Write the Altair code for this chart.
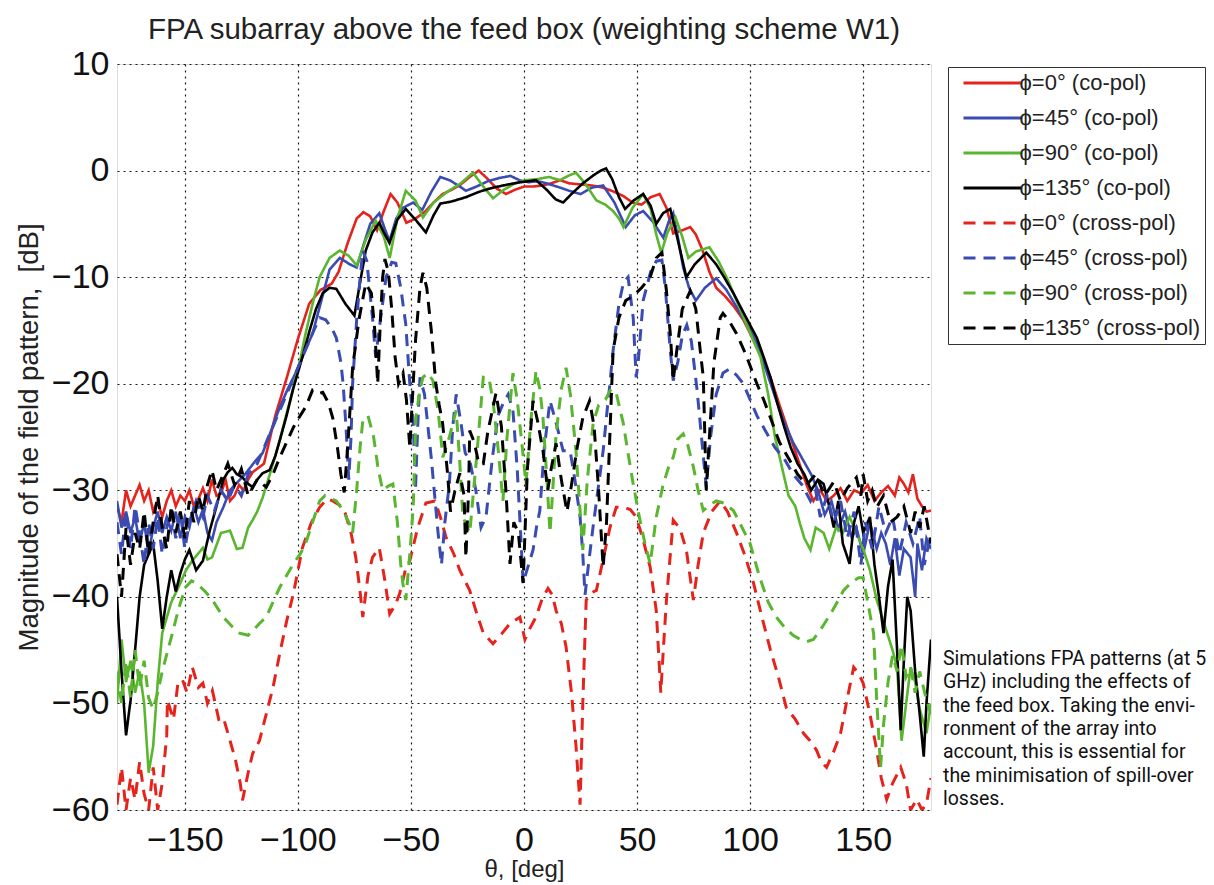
import altair as alt
import pandas as pd

# ---------------- data ----------------
X_TICKS = [-150, -100, -50, 0, 50, 100, 150]
Y_TICKS = [-60, -50, -40, -30, -20, -10, 0, 10]

LABELS = ["ϕ=0° (co-pol)", "ϕ=45° (co-pol)", "ϕ=90° (co-pol)", "ϕ=135° (co-pol)",
          "ϕ=0° (cross-pol)", "ϕ=45° (cross-pol)", "ϕ=90° (cross-pol)", "ϕ=135° (cross-pol)"]
COLORS = ["#e5231d", "#3a4bb2", "#5ab52f", "#000000",
          "#e5231d", "#3a4bb2", "#5ab52f", "#000000"]
DASHES = [[1, 0], [1, 0], [1, 0], [1, 0], [12, 8], [12, 8], [12, 8], [12, 8]]

# phi = 0 co-pol
CO0_T = [-180, -178, -176, -174, -172, -170, -168, -166, -164, -162, -160, -158, -156, -154, -152, -150,
         -148, -146, -144, -142, -140, -138, -136, -134, -132, -130, -128, -126, -124, -122, -120, -115,
         -110, -105, -100, -95, -90, -85, -82, -78, -74, -71, -68, -65, -62, -59, -56, -52, -48, -44, -40,
         -36, -32, -28, -24, -20, -16, -12, -8, -4, 0, 4, 8, 12, 16, 20, 25, 30, 35, 40, 44, 48, 52, 56,
         60, 63, 66, 70, 73.5, 76, 79, 82, 85, 89, 93, 97, 101, 105, 109, 113, 117, 121, 125, 128, 131,
         134, 137, 140, 143, 146, 149, 152, 155, 158, 161, 164, 166, 168, 170, 172, 174, 176, 178, 180]
CO0_DB = [-31.5, -33, -30, -31.5, -30.5, -29.5, -31, -30, -32, -31, -32.5, -31, -30, -31.5, -30.5, -31,
          -30, -31.5, -30.8, -29.8, -31, -29, -30.5, -30.3, -29, -31, -30.5, -29.5, -30, -29, -28.3, -27.5,
          -23, -19.5, -15.8, -12.5, -11.2, -10.6, -9.5, -6.8, -4.5, -3.9, -4.3, -5.6, -3.8, -2.2, -3, -4.9,
          -4.5, -3.9, -3, -2.2, -1.8, -1.3, -0.6, 0, -0.8, -1.7, -2.2, -1.8, -1.5, -1.5, -1.4, -1.2, -0.9,
          -1.2, -1.3, -1.4, -1.6, -2, -2.4, -3, -3.2, -2.5, -2.2, -3.5, -5.9, -5.6, -5.3, -6, -7.5, -9.5,
          -11, -11.8, -12.8, -14, -15.7, -17.5, -19.4, -22, -24.5, -27, -29.5, -31, -30, -31, -30.5, -29.8,
          -31, -30, -30.3, -29.5, -31, -30.2, -29.6, -30.5, -28.8, -29.4, -30.2, -28.5, -30.8, -31.5, -32,
          -31.9]

# phi = 45 co-pol
CO45_T = [-180, -178, -176, -174, -172, -170, -168, -166, -164, -162, -160, -158, -156, -154, -152, -150,
          -148, -146, -144, -142, -140, -138, -136, -133, -130, -127, -123, -119, -115.6, -112, -108,
          -104.5, -101, -97, -93.5, -90, -86, -81.5, -77, -74, -71, -68, -64, -61.5, -59.5, -56.5, -53.6,
          -49, -45, -41, -37, -33, -29, -25.7, -21, -16, -11, -6, -2, 2, 6, 10, 16, 20, 25, 30, 35, 40, 45,
          49, 52.7, 57, 61.6, 64, 66, 68, 70.4, 73, 76, 80, 85, 89.5, 94, 98.5, 103, 107, 111, 115, 119,
          123, 127, 130, 133, 136, 139, 142, 145, 147, 150, 153, 156, 158, 160, 162, 164, 166, 168, 171,
          173, 174, 176, 178, 180]
CO45_DB = [-31, -33.5, -32, -34, -32.5, -35, -33, -36, -33.5, -32, -34, -32.5, -33.8, -32, -34.5, -32.5,
           -33.5, -31.5, -33, -31.8, -34, -34.7, -33, -31.6, -30, -29.3, -28.4, -27.3, -26.5, -24.5, -22.2,
           -20.5, -19, -17, -15.3, -12.5, -9.3, -8.2, -8.8, -9.1, -7, -5, -4, -5.5, -6.6, -4.5, -3.5, -3,
           -3.7, -2, -0.6, -0.9, -1.4, -1.9, -1.5, -1, -0.7, -0.5, -0.9, -1.1, -1, -1.2, -1.6, -1.9, -2.2,
           -1.6, -1.4, -3, -5.3, -4.2, -3.8, -4.8, -6.3, -4.8, -4, -6.2, -9.1, -11, -12.2, -11, -10.1, -11.2,
           -12.8, -14.4, -16.2, -18.7, -21.2, -23.6, -25.5, -27, -28.5, -30, -32.3, -31, -33.6, -32, -34.5,
           -33.5, -36, -33, -35.5, -34, -35, -37, -34.5, -38, -35.5, -36.3, -40, -35, -37.5, -34.5, -35.5]

# phi = 90 co-pol
CO90_T = [-180, -178, -176, -174, -172, -170, -168, -166, -164, -162, -160, -156, -152.6, -149.5, -146.7,
          -142, -140, -138, -134, -130, -127, -124.5, -122, -120, -118, -115.6, -112, -108, -105, -102, -99,
          -96.6, -93.5, -90.4, -86, -81.5, -77.5, -74, -70, -65.6, -62, -59.4, -56, -52.3, -48, -44.7, -40,
          -34, -28, -22.6, -18, -13.7, -9, -4, 1, 6, 11, 16, 19.5, 23, 27, 32, 36, 39.4, 42, 44, 48, 52.7,
          56, 58.5, 60.7, 63.5, 67, 70, 72.7, 76, 82, 86, 90, 94, 98.5, 104.6, 108, 111, 114.8, 117, 120,
          122, 124, 126.7, 129, 132.5, 135, 138, 141, 144, 147, 150, 153, 156, 160, 163, 165, 167, 169, 171,
          173, 175, 178, 180]
CO90_DB = [-50, -44, -48, -46, -49, -47, -50, -56.5, -54, -48, -43.4, -40.5, -39, -37.5, -36.6, -35.4,
           -36.5, -36.3, -34, -33.8, -35.5, -35.4, -33.5, -32.8, -32, -30.7, -28.2, -25.3, -22.8, -20.4,
           -17.8, -15.3, -12.5, -10, -8.2, -7.5, -8, -8.9, -6.5, -4.7, -6.2, -8.2, -4.5, -1.9, -2.8, -4.4,
           -3, -2, -1.2, -0.2, -1.5, -2.6, -1.8, -1.2, -0.9, -0.8, -0.6, -0.9, -0.5, -0.2, -1.2, -2.8, -3.2,
           -3.8, -4.5, -5.3, -3.5, -2.2, -3.6, -6, -7.7, -5.8, -4.4, -6.2, -8.2, -7.6, -7.2, -8.5, -10.2,
           -12.2, -14.5, -17.5, -21, -25, -28.5, -30.5, -31.5, -33.1, -34.5, -35.6, -33.5, -34, -35.5, -33.5,
           -34, -32.5, -34, -35.5, -37.5, -40.3, -43, -45, -46.6, -53.5, -50, -46.6, -48, -50.5, -52.8, -50]

# phi = 135 co-pol
CO135_T = [-180, -178, -176, -174, -172, -170, -168, -166, -164, -162, -160, -158, -156, -154, -152, -150,
           -148, -145, -142, -139, -136, -133, -131, -129, -127, -124.5, -122, -120, -118, -115.6, -112.5,
           -110, -108, -105, -102, -98, -94.8, -92, -89, -86, -83, -79, -75, -72.5, -70, -67, -64, -62,
           -59.5, -56, -52.3, -48, -43.4, -40, -37, -32, -25.7, -20, -13.7, -7, -1.8, 2, 5.3, 10, 14, 17.3,
           21, 26, 31, 34, 36.3, 39, 42, 44.7, 48.5, 52.7, 56, 58.5, 61.5, 64.7, 68, 71.8, 75.5, 80.6, 85,
           88.5, 92.6, 97.5, 103, 106, 109, 112, 115, 118, 121, 124, 127, 130, 132.5, 135, 137, 139, 141,
           144, 146, 148, 150, 153, 155, 157, 159, 161, 163, 165, 166.6, 168, 169.5, 171, 173, 175, 176.8,
           178, 180]
CO135_DB = [-40, -47, -53, -49.7, -45, -40, -37, -36, -35, -38.5, -43, -40, -37.5, -39.5, -37.8, -36.5,
            -35.6, -37.5, -36.6, -33.8, -31.5, -29, -28.3, -27.9, -28.5, -28.8, -29.4, -29.7, -29, -28.4,
            -28.1, -26.8, -25.3, -23, -20.4, -17.5, -15, -13, -11.5, -11, -11.1, -12.5, -13.6, -10.5, -7.5,
            -5.8, -4.9, -5.8, -6.8, -4.6, -3.6, -4.6, -5.8, -4.2, -3.1, -2.9, -2.5, -2, -1.6, -1.3, -1.1, -1,
            -0.9, -1.8, -2.7, -3, -2.2, -1.2, -0.4, 0, 0.2, -0.8, -2.5, -3.6, -2.8, -2.2, -3.3, -5, -4, -3.6,
            -6.5, -10, -8.8, -7.7, -8.8, -10, -11.5, -13.5, -15.7, -17.5, -19.4, -21.8, -24, -26, -27.5,
            -28.5, -30, -29, -29.4, -31.5, -33.5, -31, -35, -36.9, -33, -31.5, -34, -32.5, -37, -40, -43.4,
            -39, -36.5, -45, -52.5, -46, -40, -41.3, -47, -51, -55, -50, -44]

# phi = 0 cross-pol
X0_T = [-180, -178, -176, -174, -172, -170, -168, -166, -164, -162, -160, -158, -157.7, -155, -153, -151,
        -149, -146.7, -144, -142, -140, -137.8, -135, -133, -130, -127.6, -125.5, -124.5, -122, -120, -117,
        -114, -111, -108, -105, -102, -98, -94, -90.4, -87, -84.6, -81.5, -79, -76.5, -74.4, -72.5, -71.3,
        -69, -67, -64, -61.5, -59.4, -57, -55, -52.5, -50.5, -47, -43.4, -39.4, -37, -34.5, -31, -28.4,
        -24, -21, -18, -13.7, -10, -6.2, -1.8, 0.4, 2.5, 5.3, 8, 10.6, 12.5, 14.2, 16.5, 18.6, 21, 23, 24.8,
        26, 27.5, 30, 32, 35, 38, 40.8, 43.9, 47, 49.6, 52.5, 55.8, 58.5, 60.5, 61.6, 63, 66, 69, 71.8,
        74.9, 77, 79.3, 83, 86.8, 90, 94, 97.5, 101.5, 105, 109, 112.5, 116, 120, 123.6, 126.5, 129.4,
        131.5, 133.8, 137, 140, 143, 145.8, 148, 150, 153, 156, 158, 160.4, 163, 166.6, 169, 171, 173.7,
        176, 178, 180]
X0_DB = [-59.5, -56, -60, -57, -59, -55.5, -58.5, -60, -56, -60, -57.5, -53, -49.7, -51.5, -48, -47.8,
         -49, -46.6, -48.5, -48.1, -50, -48.8, -51.5, -51.3, -53.5, -55.3, -57.5, -59.1, -56.5, -54.7,
         -53.5, -51, -48.5, -45.3, -42.3, -39.7, -35.4, -33, -31.6, -30.8, -31, -31.4, -32.2, -34, -36.3,
         -39.5, -41.9, -38, -36.3, -35.4, -38.5, -41.6, -40.8, -39.7, -37.5, -36.6, -33.5, -31.2, -31,
         -32.5, -34.4, -36, -37.5, -39.4, -41.5, -43.4, -44.4, -43.5, -42.5, -41.9, -44, -43, -41.9, -40.2,
         -39.2, -39.8, -41.3, -42.5, -44.7, -49, -54, -59.5, -50, -40.3, -39.6, -39.4, -36.5, -33.5, -31.6,
         -31.6, -31.8, -32.5, -34.5, -37.2, -41.3, -49, -45, -40.3, -32.8, -33.6, -35.6, -40.3, -37, -34,
         -32, -31, -32, -34, -36, -38.7, -41.7, -45, -47.5, -50.4, -51.5, -52.8, -53.5, -54.4, -55.5, -56,
         -54.5, -52.8, -49.5, -46.6, -47.2, -48.1, -51, -54.4, -57, -59, -57.5, -56, -57.5, -60, -59, -60,
         -59.4, -57]

# phi = 45 cross-pol
X45_T = [-180, -178, -176, -174, -172, -170, -168, -166, -164, -162, -160, -158, -156, -154, -152, -150,
         -148, -145, -142, -140, -137, -134, -131, -128, -125, -122, -118, -115, -112, -108, -104, -101,
         -98, -94, -90.4, -87.7, -85, -83, -81, -80, -78.7, -77.5, -76.5, -75.8, -74, -72.7, -71.3, -69.5,
         -67, -65.6, -63.5, -61, -58.5, -56.7, -54.5, -52.3, -50.5, -49, -48, -47, -46, -44, -41, -38, -36.5,
         -35, -33, -31.5, -30, -28, -26, -24, -21.3, -19, -16.8, -14, -11.5, -9.3, -7, -4.9, -3, -1.5, -0.4,
         2, 4, 5.5, 7, 9, 11.5, 14, 17.3, 20.4, 22.5, 24.8, 26, 27, 28.5, 30.5, 33, 35, 37, 38, 39.4, 42, 44,
         46, 48.3, 49.6, 50.5, 52.7, 56, 58.5, 61, 62.5, 64.7, 66, 68, 70, 72, 74, 76.5, 78.5, 80.6, 82.5,
         85, 88, 91, 94, 97, 100, 103, 107, 111, 115, 119, 123, 126.7, 129, 131, 134, 137, 140, 143, 146,
         149, 151, 154, 157, 160, 163, 166, 169, 172, 175, 177, 180]
X45_DB = [-33, -36, -32, -35.5, -31.5, -34, -37, -33, -35.5, -32.5, -36, -33.5, -31.8, -34.5, -32, -35.5,
          -33, -31, -32.5, -30.5, -32, -30, -31, -29.5, -30.5, -28.5, -27.5, -26, -24.5, -22.5, -20.5, -19,
          -17.5, -15.5, -13.8, -14, -14.8, -15.7, -18, -20, -24.1, -29, -25, -20, -14, -10.6, -7.5, -8.5,
          -13.8, -17.5, -14, -10, -8.6, -8.7, -11, -14.4, -20, -23.5, -30, -24, -19.4, -21, -27, -34, -37,
          -33, -29.4, -24, -21, -23.5, -26.5, -27.2, -30, -33.5, -32.5, -27, -23, -21.9, -21, -22.5, -28,
          -34, -38.7, -37, -35.6, -33.5, -31.9, -26, -21.6, -23.5, -26.3, -26.3, -29, -32.5, -36, -39.8,
          -37, -33.5, -29.5, -26.3, -22, -20, -16.9, -12.5, -10.5, -10, -13.8, -19.4, -18, -12.2, -9.5,
          -8.5, -8.4, -11, -16.9, -19.7, -18, -15.5, -14.5, -16, -20.5, -25, -29.7, -25, -21, -19, -18.6,
          -19.2, -20, -21.5, -23, -24.5, -26, -27, -28.5, -29.5, -31, -30, -32.5, -30.5, -33, -31, -34.5,
          -32, -37, -33, -35.5, -31.5, -34, -32.5, -36, -33, -35, -32.5, -37, -34]

# phi = 90 cross-pol
X90_T = [-180, -178, -176, -174, -172, -170, -168, -166, -164, -162, -160, -157.5, -155.5, -152.6, -149.7,
         -147, -145, -141, -137.8, -133, -129, -125.8, -122, -120, -117, -114, -111, -108, -105, -102, -99,
         -96.6, -93.5, -90.4, -88, -86, -83, -80, -77.5, -75.8, -74, -72.5, -71.3, -69, -66.5, -64.5, -62.5,
         -60, -58, -56, -54.5, -53.6, -52.3, -50.5, -49, -47.8, -46, -44.7, -42.5, -40.3, -38, -35.9, -33,
         -30, -28.5, -27, -24, -21, -18, -15.5, -13.7, -11.5, -9.3, -7.5, -4.9, -3, -1, 0.9, 3, 5.3, 7, 8.4,
         10, 11.5, 13, 14.2, 16.5, 18.6, 20.5, 23, 24.5, 26, 28, 30.6, 33, 36, 38.5, 40.8, 43.9, 46, 48.3,
         51, 53.5, 55.8, 58.5, 61.5, 64, 66, 68, 70.4, 72.5, 74.9, 77, 79.3, 82, 85, 88.5, 92.6, 96, 100,
         104, 108, 111.6, 115, 119, 122.3, 125, 128, 132, 135.6, 138.5, 141.3, 145, 148, 150, 152, 154.6,
         156, 157.7, 159, 161, 163, 165, 167, 169, 171, 173, 175, 178, 180]
X90_DB = [-47, -50, -46, -49.5, -45, -48.5, -46, -49.5, -50.5, -49, -47, -45, -43.4, -41, -39.1, -38.5,
          -38.7, -39.5, -40.3, -41.9, -42.8, -43.4, -43.6, -43.2, -42.5, -41.9, -40.5, -39.1, -38, -36.9,
          -36, -35, -33, -31, -30.5, -30.7, -31, -31.9, -33, -34, -30, -26, -23.5, -23, -25, -28, -30,
          -29.6, -29.4, -33, -37, -38.7, -40.3, -36, -31.6, -23.2, -20.5, -19.4, -19, -19.7, -22.5, -26.9,
          -25, -22.5, -27, -32.5, -34, -27, -19.4, -19.5, -21.6, -26, -31, -25, -19, -21.5, -25.5, -29.4,
          -23.5, -18.8, -20.5, -23.2, -28.5, -34, -29, -24.7, -20.5, -18.5, -21, -26.3, -31, -35.6, -29,
          -23.7, -22, -21.5, -20.5, -20.9, -23.7, -26.5, -29.4, -32.5, -35, -36.9, -32.5, -29.5, -27.8,
          -26.9, -25.2, -24.7, -25.8, -27.8, -30, -31.9, -31.4, -31, -31.2, -31.9, -33.3, -35, -38, -40.5,
          -41.9, -42.8, -43.6, -44, -44.2, -44, -42.8, -41.6, -40.5, -39.4, -38.6, -38.2, -38.2, -40.5,
          -43.4, -49.7, -56, -52, -48, -45.5, -47, -44.5, -47.5, -46.6, -49, -47, -49.7, -51]

# phi = 135 cross-pol
X135_T = [-180, -178, -176, -174, -172, -170, -168, -166, -164, -162, -160, -158, -156, -154, -152, -150,
          -148, -146, -144, -142, -140, -138, -136, -134, -131, -128, -125, -122, -118, -114, -111, -108,
          -105, -102, -99, -96.6, -93.5, -90.4, -89, -86.5, -84.6, -82.5, -81, -79.5, -78, -75.8, -73, -70,
          -67.5, -66, -64.7, -63.5, -62.5, -61.5, -60, -58.5, -57, -55.5, -53.5, -52, -50.5, -49.5, -48, -46,
          -44.7, -43, -41, -39, -37.5, -36, -34, -32.5, -30.5, -28.4, -26.5, -25.7, -24.5, -24, -22, -20,
          -18, -16, -12.4, -10, -8, -6.2, -4.5, -2.5, -0.4, 1.5, 4, 6, 8.4, 10.5, 12, 14.2, 16.5, 19, 21,
          23.5, 26, 29, 31, 33, 35, 36.5, 38, 39.4, 42, 45, 48, 52, 55.8, 58.5, 61, 63, 64.7, 66, 67.5, 70,
          73.5, 76, 78, 79.3, 80.6, 82, 84, 86.8, 88, 91, 94, 98, 103, 106, 109, 113, 117, 121, 125, 129,
          133, 137, 140, 143, 147, 149, 150, 152, 154, 156, 159, 162, 165, 168, 171, 173, 175, 177, 180]
X135_DB = [-36, -40, -33.5, -37, -34, -35.5, -32, -36, -33, -30.5, -33.5, -35.5, -31.5, -34, -32, -34.5,
           -31, -33, -30.5, -32, -29.5, -28.1, -30, -29, -27.5, -29.5, -28, -30.5, -29, -29.7, -28.5, -26.9,
           -25.5, -24.1, -23, -22.2, -20.6, -20.9, -20.8, -21.8, -23.2, -26, -28.5, -30.2, -26, -18.5, -14,
           -10.6, -11.5, -15, -20, -14, -10, -8.3, -9.5, -13, -17.5, -20, -19, -21.5, -26, -22, -16, -11,
           -9.6, -11, -15, -20, -22, -23.7, -28, -32, -30, -28.4, -30.5, -36.3, -30, -24.4, -25.5, -27.5,
           -27.5, -24.5, -20.9, -24, -30, -36.9, -33, -34, -38.7, -28, -21.6, -23.5, -26.3, -30, -28, -25.6,
           -29, -32, -29.5, -26, -23.2, -21.6, -24, -30, -37.2, -33, -24.7, -16.9, -13.8, -12.2, -11.8, -11,
           -10, -8.2, -7.7, -11.3, -15.3, -19.7, -17, -13, -11.3, -13, -17, -19.4, -30, -25, -18, -13.8,
           -13.4, -14.2, -15.3, -17.2, -20, -21.5, -23.2, -25.5, -27, -28.5, -29.5, -28.5, -30.5, -29.2, -31,
           -29.8, -28.8, -30.5, -28.5, -31, -30, -31.6, -30.5, -33, -32.5, -31.5, -34, -32, -33.5, -31.5, -35]

SERIES_T = [CO0_T, CO45_T, CO90_T, CO135_T, X0_T, X45_T, X90_T, X135_T]
SERIES_DB = [CO0_DB, CO45_DB, CO90_DB, CO135_DB, X0_DB, X45_DB, X90_DB, X135_DB]

CAPTION = ["Simulations FPA patterns (at 5", "GHz) including the effects of",
           "the feed box. Taking the envi-", "ronment of the array into",
           "account, this is essential for", "the minimisation of spill-over", "losses."]

# ---------------- build table ----------------
rows = []
for k, (ts, ds) in enumerate(zip(SERIES_T, SERIES_DB)):
    for i, (t, d) in enumerate(zip(ts, ds)):
        rows.append({"series": LABELS[k], "pol": "co" if k < 4 else "cross",
                     "theta": t, "db": d, "idx": i})
df = pd.DataFrame(rows)

FONT = "Liberation Sans"
GRID = dict(grid=True, gridColor="#1a1a1a", gridDash=[2, 4], gridWidth=1.2, gridOpacity=1,
            ticks=False, domain=False, labelFont=FONT, titleFont=FONT,
            labelColor="#111111", titleColor="#222222", titleFontWeight="normal",
            labelFlush=False)

x_enc = alt.X("theta:Q",
              scale=alt.Scale(domain=[-180, 180], nice=False, zero=False),
              axis=alt.Axis(values=X_TICKS, title="θ, [deg]", labelFontSize=34,
                            titleFontSize=24, labelPadding=13, titlePadding=0, **GRID))
y_enc = alt.Y("db:Q",
              scale=alt.Scale(domain=[-60, 10], nice=False, zero=False),
              axis=alt.Axis(values=Y_TICKS, title="Magnitude of the field pattern,\u00a0 [dB]",
                            labelFontSize=34, titleFontSize=27.5, labelPadding=8,
                            titlePadding=8, **GRID))

legend = alt.Legend(title=None, orient="none", legendX=831, legendY=3,
                    symbolType="M-0.05,0H5.75", symbolSize=400, symbolStrokeWidth=3,
                    labelFontSize=22, labelFont=FONT, labelColor="#222222",
                    labelOffset=44, rowPadding=12, padding=4.5,
                    strokeColor="#333333", fillColor="white", labelLimit=300)

color_enc = alt.Color("series:N", scale=alt.Scale(domain=LABELS, range=COLORS), legend=legend)
dash_enc = alt.StrokeDash("series:N", scale=alt.Scale(domain=LABELS, range=DASHES), legend=legend)

base = alt.Chart(df).encode(x=x_enc, y=y_enc, color=color_enc, strokeDash=dash_enc,
                            order=alt.Order("idx:Q"))

co = base.transform_filter(alt.datum.pol == "co").mark_line(strokeWidth=2.6, clip=True)
cross = base.transform_filter(alt.datum.pol == "cross").mark_line(strokeWidth=3, clip=True)

caption = alt.Chart(pd.DataFrame({"a": [0]})).mark_text(
    align="left", baseline="top", font="Roboto", fontSize=19.5, lineHeight=23.3,
    color="#111111", text=CAPTION
).encode(x=alt.value(826), y=alt.value(586))

chart = alt.layer(co, cross, caption).properties(
    width=814, height=746,
    title=alt.TitleParams("FPA subarray above the feed box (weighting scheme W1)",
                          fontSize=29.5, font=FONT, fontWeight="normal", color="#222222",
                          anchor="middle", offset=2),
    autosize=alt.AutoSizeParams(type="none"),
    padding={"left": 117, "top": 64, "right": 283, "bottom": 75},
).configure_view(stroke="#333333", strokeWidth=1.6
).configure(background="white")

chart.save("out.html", embed_options={"renderer": "svg", "actions": False})
